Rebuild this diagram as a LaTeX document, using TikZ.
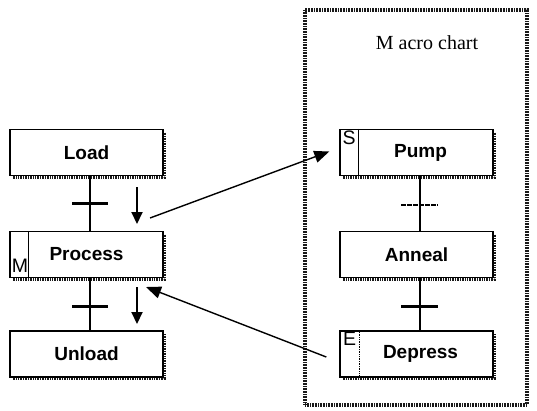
\documentclass[tikz,border=0pt]{standalone}
\usepackage{fontspec}
\setmainfont{Liberation Sans}
\newfontfamily\titlefont{Liberation Serif}
\usetikzlibrary{arrows.meta,calc}
\begin{document}
\begin{tikzpicture}[x=1pt,y=-1pt,
  stepbox/.style={draw=black,line width=1.4pt,fill=white,minimum width=153pt,
    minimum height=46pt,inner sep=0pt,font=\fontsize{19}{22}\selectfont\bfseries},
  shade/.style={line width=3pt,black!90,dash pattern=on 1pt off 0.7pt},
  link/.style={line width=2.8pt},
  bar/.style={line width=2.8pt},
  flow/.style={line width=2pt,-{Triangle[length=12pt,width=11pt]}},
  call/.style={line width=1.4pt,-{Triangle[length=15pt,width=12pt]}},
  tag/.style={font=\fontsize{19.5}{22}\selectfont,inner sep=0pt}]
\useasboundingbox (0,0) rectangle (537,410);

% macro chart frame
\draw[line width=3.5pt,black!90,dash pattern=on 1pt off 0.6pt] (305,10) rectangle (527,405);
\node[font=\titlefont\fontsize{20}{24}\selectfont] (title) at (427,43) {M acro chart};

% drop shadows of the step boxes
\foreach \x/\y in {10/129.5,10/231.5,10/331,340/129.5,340/231.5,340/331}{
  \draw[shade] (\x+153+1.5,\y+3) -- (\x+153+1.5,\y+46+1.7) -- (\x+3,\y+46+1.7);
}

% main chart steps
\node[stepbox] (Load) at (86.5,152.5) {Load};
\node[stepbox] (Process) at (86.5,254.5) {Process};
\node[stepbox] (Unload) at (86.5,354) {Unload};

% macro chart steps
\node[stepbox] (Pump) at (416.5,152.5) {\hspace*{8pt}Pump};
\node[stepbox] (Anneal) at (416.5,254.5) {Anneal};
\node[stepbox] (Depress) at (416.5,354) {\hspace*{8pt}Depress};

% qualifier cells
\draw[line width=1pt] ([xshift=19pt]Process.north west) -- ([xshift=19pt]Process.south west);
\node[tag,anchor=base west] (qM) at ([xshift=2.5pt,yshift=6pt]Process.south west) {M};
\draw[line width=0.7pt] ([xshift=19pt]Pump.north west) -- ([xshift=19pt]Pump.south west);
\node[tag,anchor=north west] (qS) at ([xshift=3pt,yshift=-1.5pt]Pump.north west) {S};
\draw[line width=0.7pt,densely dotted] ([xshift=20pt]Depress.north west) -- ([xshift=20pt]Depress.south west);
\node[tag,anchor=north west] (qE) at ([xshift=3.5pt,yshift=-1.5pt]Depress.north west) {E};

% transitions in the main chart
\draw[link] ([xshift=3.5pt]Load.south) -- coordinate[pos=0.5] (t1) ([xshift=3.5pt]Process.north);
\draw[bar] ([xshift=-18pt]t1) -- ([xshift=18pt]t1);
\draw[link] ([xshift=3.5pt]Process.south) -- coordinate[pos=0.55] (t2) ([xshift=3.5pt]Unload.north);
\draw[bar] ([xshift=-18pt]t2) -- ([xshift=18pt]t2);

% transitions in the macro chart
\draw[link] ([xshift=3.5pt]Pump.south) -- coordinate[pos=0.53] (t3) ([xshift=3.5pt]Anneal.north);
\draw[line width=1.5pt,dash pattern=on 5pt off 1pt] ([xshift=-19pt]t3) -- ([xshift=18pt]t3);
\draw[link] ([xshift=3.5pt]Anneal.south) -- coordinate[pos=0.55] (t4) ([xshift=3.5pt]Depress.north);
\draw[bar] ([xshift=-19pt]t4) -- ([xshift=18pt]t4);

% direction of flow
\coordinate (f1a) at (137,187);
\coordinate (f1b) at (137,224);
\coordinate (f2a) at (137,287);
\coordinate (f2b) at (137,324);
\draw[flow] (f1a) -- (f1b);
\draw[flow] (f2a) -- (f2b);

% macro step call and return
\coordinate (callA) at (150,218);
\coordinate (retB) at (146,287);
\draw[call] (callA) -- ([xshift=-10pt,yshift=1pt]Pump.west);
\draw[call] ([xshift=-13pt,yshift=-3pt]Depress.west) -- (retB);
\end{tikzpicture}
\end{document}
